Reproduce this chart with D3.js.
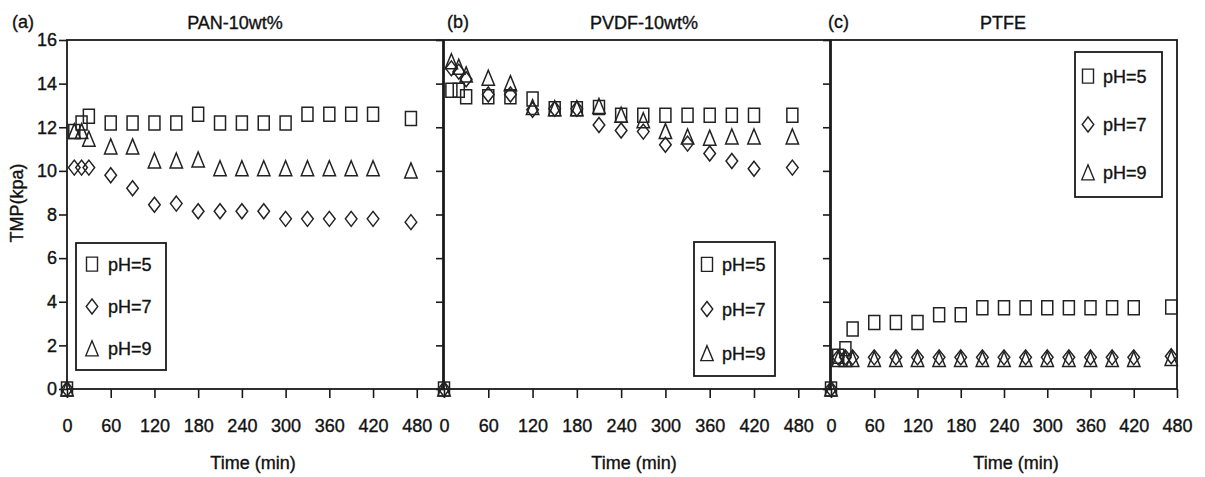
<!DOCTYPE html>
<html>
<head>
<meta charset="utf-8">
<script src="https://cdn.jsdelivr.net/npm/d3@7"></script>
<style>
	body { margin: 0; background: #fff; }
	svg text { font-family: "Liberation Sans", Arial, sans-serif; fill: #111; stroke: #111; stroke-width: 0.35px; }
</style>
</head>
<body>
<svg id="chart" width="1205" height="477"></svg>
<script>
'use strict';

// sampling times (min), shared by all three membranes
var times = [0, 10, 20, 30, 60, 90, 120, 150, 180, 210, 240, 270, 300, 330, 360, 390, 420, 472];
var xTicks = [0, 60, 120, 180, 240, 300, 360, 420, 480];
var yTicks = [0, 2, 4, 6, 8, 10, 12, 14, 16];
var seriesNames = ['pH=5', 'pH=7', 'pH=9'];
var markerTypes = ['square', 'diamond', 'triangle'];

// (a) PAN-10wt%
var panPH5 = [0, 11.8, 12.2, 12.5, 12.2, 12.2, 12.2, 12.2, 12.6, 12.2, 12.2, 12.2, 12.2, 12.6, 12.6, 12.6, 12.6, 12.4];
var panPH7 = [0, 10.15, 10.15, 10.15, 9.8, 9.2, 8.45, 8.5, 8.15, 8.15, 8.15, 8.15, 7.8, 7.8, 7.8, 7.8, 7.8, 7.65];
var panPH9 = [0, 11.8, 11.8, 11.45, 11.1, 11.1, 10.45, 10.45, 10.5, 10.1, 10.1, 10.1, 10.1, 10.1, 10.1, 10.1, 10.1, 10.0];
// (b) PVDF-10wt%
var pvdfPH5 = [0, 13.7, 13.7, 13.4, 13.4, 13.4, 13.3, 12.85, 12.85, 12.9, 12.55, 12.55, 12.55, 12.55, 12.55, 12.55, 12.55, 12.55];
var pvdfPH7 = [0, 14.7, 14.55, 14.2, 13.5, 13.5, 12.8, 12.85, 12.85, 12.1, 11.85, 11.8, 11.2, 11.25, 10.8, 10.45, 10.1, 10.15];
var pvdfPH9 = [0, 15.0, 14.75, 14.4, 14.25, 14.0, 12.9, 12.85, 12.85, 12.95, 12.55, 12.3, 11.8, 11.55, 11.5, 11.55, 11.55, 11.55];
// (c) PTFE
var ptfePH5 = [0, 1.5, 1.85, 2.75, 3.05, 3.05, 3.05, 3.4, 3.4, 3.72, 3.72, 3.72, 3.72, 3.72, 3.72, 3.72, 3.72, 3.76];
var ptfePH7 = [0, 1.45, 1.45, 1.45, 1.45, 1.45, 1.45, 1.45, 1.45, 1.45, 1.45, 1.45, 1.45, 1.45, 1.45, 1.45, 1.45, 1.5];
var ptfePH9 = [0, 1.35, 1.35, 1.35, 1.35, 1.35, 1.35, 1.35, 1.35, 1.35, 1.35, 1.35, 1.35, 1.35, 1.35, 1.35, 1.35, 1.4];

(function() {
	var INK = '#1a1a1a';
	var plotTop = 40, plotBottom = 389;

	// layout of each panel (pixel geometry only)
	var panels = [
		{ tag: '(a)', title: 'PAN-10wt%', series: [panPH5, panPH7, panPH9],
			left: 67, right: 443, xMax: 516, tagX: 12, titleX: 235, xTitleX: 253, showYLabels: true,
			legend: { x: 76, y: 243, w: 90, h: 127, mx: 16, tx: 32 } },
		{ tag: '(b)', title: 'PVDF-10wt%', series: [pvdfPH5, pvdfPH7, pvdfPH9],
			left: 444, right: 830, xMax: 523, tagX: 447, titleX: 644, xTitleX: 634, showYLabels: false,
			legend: { x: 694, y: 242, w: 81, h: 134, mx: 13, tx: 28 } },
		{ tag: '(c)', title: 'PTFE', series: [ptfePH5, ptfePH7, ptfePH9],
			left: 831, right: 1177, xMax: 480, tagX: 828, titleX: 1003, xTitleX: 1016, showYLabels: false,
			legend: { x: 1075, y: 52, w: 87, h: 145, mx: 13, tx: 28 } }
	];

	var svg = d3.select('#chart');

	//marker outlines, a little taller than wide like the scanned figure
	function markerPath(type) {
		if (type === 'square') return 'M-5.5,-7H5.5V7H-5.5Z';
		if (type === 'diamond') return 'M0,-7.5L5.8,0L0,7.5L-5.8,0Z';
		return 'M0,-8L6.2,7H-6.2Z';
	}

	var y = d3.scaleLinear().domain([0, 16]).range([plotBottom, plotTop]);

	panels.forEach(function(p) {
		var x = d3.scaleLinear().domain([0, p.xMax]).range([p.left, p.right]);
		var g = svg.append('g');

		//y axis ticks (outside, left)
		var yAxis = d3.axisLeft(y).tickValues(yTicks).tickSize(8).tickSizeOuter(0).tickPadding(2)
			.tickFormat(p.showYLabels ? d3.format('d') : function() { return ''; });
		var ya = g.append('g').attr('transform', 'translate(' + p.left + ',0)').call(yAxis);
		ya.select('.domain').remove();
		ya.selectAll('line').attr('stroke', INK).attr('stroke-width', 1.6);
		ya.selectAll('text').style('font-size', '18px').attr('fill', '#111');

		//x axis ticks (outside, bottom)
		var xAxis = d3.axisBottom(x).tickValues(xTicks).tickSize(9).tickSizeOuter(0).tickPadding(21);
		var xa = g.append('g').attr('transform', 'translate(0,' + plotBottom + ')').call(xAxis);
		xa.select('.domain').remove();
		xa.selectAll('line').attr('stroke', INK).attr('stroke-width', 1.6);
		xa.selectAll('text').style('font-size', '18px').attr('fill', '#111');

		//plot frame
		g.append('rect')
			.attr('x', p.left).attr('y', plotTop)
			.attr('width', p.right - p.left).attr('height', plotBottom - plotTop)
			.attr('fill', 'none').attr('stroke', INK).attr('stroke-width', 1.8);

		//data markers
		p.series.forEach(function(vals, si) {
			g.append('g').selectAll('path')
				.data(vals)
				.enter().append('path')
					.attr('d', markerPath(markerTypes[si]))
					.attr('transform', function(d, i) { return 'translate(' + x(times[i]) + ',' + y(d) + ')'; })
					.attr('fill', 'none')
					.attr('stroke', '#222')
					.attr('stroke-width', 1.5);
		});

		//titles
		g.append('text').attr('x', p.tagX).attr('y', 28).style('font-size', '18px').text(p.tag);
		g.append('text').attr('x', p.titleX).attr('y', 29).attr('text-anchor', 'middle')
			.style('font-size', '18px').text(p.title);
		g.append('text').attr('x', p.xTitleX).attr('y', 469).attr('text-anchor', 'middle')
			.style('font-size', '18px').text('Time (min)');

		//legend
		var L = p.legend;
		var lg = g.append('g').attr('transform', 'translate(' + L.x + ',' + L.y + ')');
		lg.append('rect').attr('width', L.w).attr('height', L.h)
			.attr('fill', '#fff').attr('stroke', INK).attr('stroke-width', 1.8);
		seriesNames.forEach(function(name, i) {
			var ry = L.h * (2 * i + 1) / 6;
			lg.append('path').attr('d', markerPath(markerTypes[i]))
				.attr('transform', 'translate(' + L.mx + ',' + ry + ')')
				.attr('fill', 'none').attr('stroke', '#222').attr('stroke-width', 1.4);
			lg.append('text').attr('x', L.tx).attr('y', ry + 6.5)
				.style('font-size', '18px').text(name);
		});
	});

	//shared y axis title
	svg.append('text')
		.attr('transform', 'translate(23,203) rotate(-90)')
		.attr('text-anchor', 'middle')
		.style('font-size', '18px')
		.text('TMP(kpa)');
})();
</script>
</body>
</html>
